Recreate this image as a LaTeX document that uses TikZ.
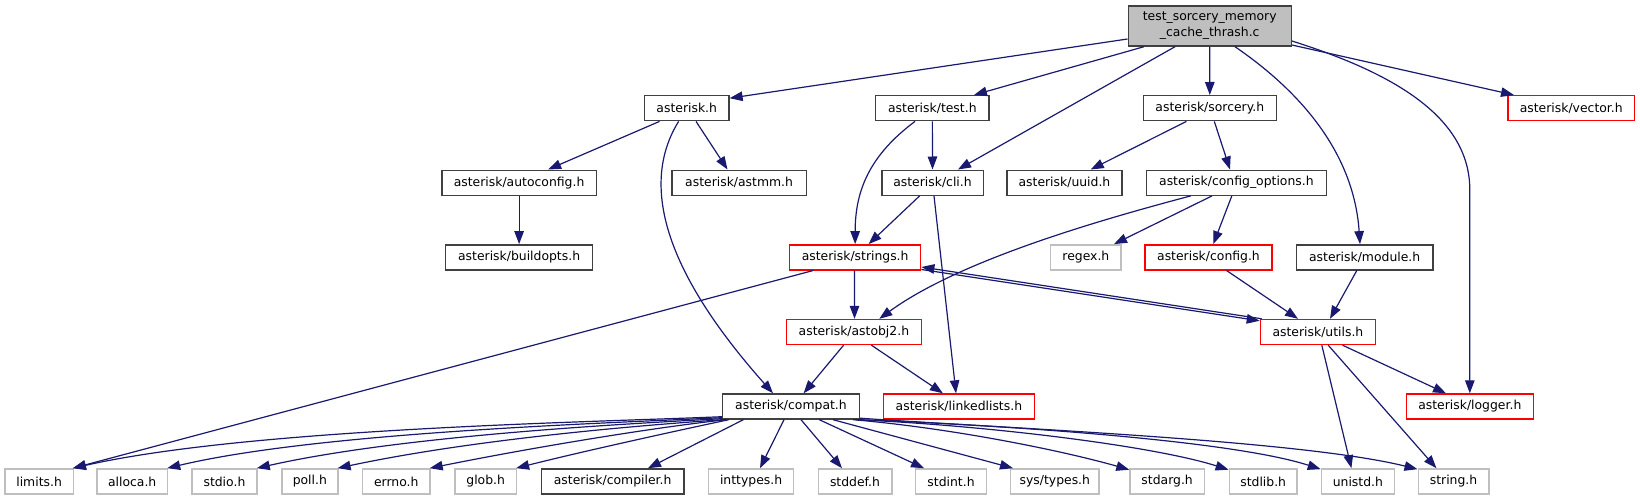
\documentclass[tikz,border=0pt]{standalone}
\usepackage{fontspec}
\setmainfont{DejaVu Sans}
\usetikzlibrary{arrows.meta}
\definecolor{edgec}{HTML}{191970}
\definecolor{grayb}{HTML}{BFBFBF}
\definecolor{darkb}{HTML}{404040}
\begin{document}
\begin{tikzpicture}[x=1pt,y=-1pt,
  box/.style={draw, line width=1.4pt, fill=white, inner sep=0pt, minimum height=25pt, font=\fontsize{12.4}{15}\selectfont},
  blk/.style={box, draw=darkb},
  redb/.style={box, draw=red},
  gryb/.style={box, draw=grayb},
  edge/.style={draw=edgec, line width=1.2pt, -{Triangle[length=13pt,width=9.5pt]}, fill=none}]
\useasboundingbox (0,0) rectangle (1640,500);
% main
\node[box, draw=darkb, fill=grayb, minimum width=163pt, minimum height=40pt, align=center, font=\fontsize{12.4}{16}\selectfont] (main) at (1209.7,26) {test\_sorcery\_memory\\\_cache\_thrash.c};
% row 1
\node[blk, minimum width=84.3pt] (ast) at (686.75,108.2) {asterisk.h};
\node[blk, minimum width=113.3pt] (test) at (932.35,108.2) {asterisk/test.h};
\node[blk, minimum width=133.2pt] (sorcery) at (1209.8,108.2) {asterisk/sorcery.h};
\node[redb, minimum width=126.7pt] (vector) at (1571.25,108.2) {asterisk/vector.h};
% row 2
\node[blk, minimum width=154.6pt] (autoconf) at (519.1,182.7) {asterisk/autoconfig.h};
\node[blk, minimum width=134.6pt] (astmm) at (739.1,182.7) {asterisk/astmm.h};
\node[blk, minimum width=101.4pt] (cli) at (932.5,182.7) {asterisk/cli.h};
\node[blk, minimum width=114.7pt] (uuid) at (1064.45,182.7) {asterisk/uuid.h};
\node[blk, minimum width=180pt] (copt) at (1236.4,182.7) {asterisk/config\_options.h};
% row 3
\node[blk, minimum width=146.8pt] (buildopts) at (519.1,257.3) {asterisk/buildopts.h};
\node[redb, minimum width=131.1pt] (strings) at (855.15,257.3) {asterisk/strings.h};
\node[gryb, minimum width=70.3pt] (regex) at (1085.85,257.3) {regex.h};
\node[redb, minimum width=127pt] (config) at (1208.5,257.3) {asterisk/config.h};
\node[blk, minimum width=136.5pt] (module) at (1364.65,257.3) {asterisk/module.h};
% row 4
\node[redb, minimum width=135pt] (astobj2) at (853.9,332) {asterisk/astobj2.h};
\node[redb, minimum width=115pt] (utils) at (1317.9,332) {asterisk/utils.h};
% row 5
\node[blk, minimum width=137pt] (compat) at (791,406.5) {asterisk/compat.h};
\node[redb, minimum width=151.4pt] (llists) at (958.9,406.5) {asterisk/linkedlists.h};
\node[redb, minimum width=126.8pt] (logger) at (1469.8,406.5) {asterisk/logger.h};
% row 6
\node[gryb, minimum width=68.2pt] (limits) at (39.1,481.4) {limits.h};
\node[gryb, minimum width=70.7pt] (alloca) at (132.15,481.4) {alloca.h};
\node[gryb, minimum width=65.3pt] (stdio) at (224.45,481.4) {stdio.h};
\node[gryb, minimum width=56.1pt] (poll) at (309.85,481.4) {poll.h};
\node[gryb, minimum width=67.5pt] (errno) at (396.25,481.4) {errno.h};
\node[gryb, minimum width=61.4pt] (glob) at (485.7,481.4) {glob.h};
\node[blk, minimum width=142.5pt] (compiler) at (612.65,481.4) {asterisk/compiler.h};
\node[gryb, minimum width=85pt] (inttypes) at (751.1,481.4) {inttypes.h};
\node[gryb, minimum width=73.6pt] (stddef) at (855,481.4) {stddef.h};
\node[gryb, minimum width=70.7pt] (stdint) at (951.05,481.4) {stdint.h};
\node[gryb, minimum width=88.2pt] (systypes) at (1054.8,481.4) {sys/types.h};
\node[gryb, minimum width=74.3pt] (stdarg) at (1167.15,481.4) {stdarg.h};
\node[gryb, minimum width=67.8pt] (stdlib) at (1263.2,481.4) {stdlib.h};
\node[gryb, minimum width=72.9pt] (unistd) at (1357.85,481.4) {unistd.h};
\node[gryb, minimum width=70.7pt] (string) at (1453.55,481.4) {string.h};
% edges from main
\draw[edge] ([yshift=-13pt]main.west) -- ([yshift=10pt]ast.east);
\draw[edge] ([xshift=-65.7pt]main.south) -- ([xshift=41.6pt]test.north);
\draw[edge] ([xshift=-34.7pt]main.south) -- ([xshift=25.5pt]cli.north);
\draw[edge] (main.south) -- (sorcery.north);
\draw[edge] ([xshift=25.3pt]main.south) .. controls (1320,105) and (1355,170) .. ([xshift=-4.65pt]module.north);
\draw[edge] ([yshift=-15pt]main.east) .. controls (1400,75) and (1469.8,120) .. (1469.8,190) -- (logger.north);
\draw[edge] ([yshift=-19pt]main.east) -- ([xshift=-57.25pt]vector.north);
% asterisk.h
\draw[edge] ([xshift=-27.2pt]ast.south) -- ([xshift=29pt]autoconf.north);
\draw[edge] ([xshift=9.25pt]ast.south) -- ([xshift=-11.6pt]astmm.north);
\draw[edge] ([xshift=-8.15pt]ast.south) .. controls (630,200) and (690,300) .. ([xshift=-18pt]compat.north);
\draw[edge] (autoconf.south) -- (buildopts.north);
% test.h
\draw[edge] (test.south) -- (cli.north);
\draw[edge] ([xshift=-17.35pt]test.south) .. controls (870,155) and (855.15,190) .. (strings.north);
% cli.h
\draw[edge] ([xshift=-12.9pt]cli.south) -- ([xshift=13.45pt]strings.north);
\draw[edge] ([xshift=1.5pt]cli.south) -- ([xshift=-2.9pt]llists.north);
% sorcery.h
\draw[edge] ([xshift=-23.4pt]sorcery.south) -- ([xshift=26.25pt]uuid.north);
\draw[edge] ([xshift=4.5pt]sorcery.south) -- ([xshift=-6.4pt]copt.north);
% config_options.h
\draw[edge] ([xshift=-45.7pt]copt.south) .. controls (1100,220) and (960,260) .. ([xshift=25.4pt]astobj2.north);
\draw[edge] ([xshift=-24.4pt]copt.south) -- ([xshift=28.15pt]regex.north);
\draw[edge] ([xshift=-4.6pt]copt.south) -- ([xshift=4.8pt]config.north);
% config, module
\draw[edge] ([xshift=18pt]config.south) -- ([xshift=-19.9pt]utils.north);
\draw[edge] ([xshift=-7.85pt]module.south) -- ([xshift=12.1pt]utils.north);
% strings.h
\draw[edge] ([xshift=-0.6pt]strings.south) -- ([xshift=0.6pt]astobj2.north);
\draw[edge] ([xshift=-41.95pt]strings.south) -- ([xshift=-1pt]limits.north east);
\draw[edge] ([yshift=1pt]strings.south east) -- ([yshift=-2pt]utils.north west);
\draw[edge] ([xshift=2pt]utils.north west) -- ([yshift=3.5pt]strings.south east);
% utils.h
\draw[edge] ([xshift=24.6pt]utils.south) -- ([xshift=-23.8pt]logger.north);
\draw[edge] ([xshift=3.9pt]utils.south) -- ([xshift=-6.45pt]unistd.north);
\draw[edge] ([xshift=10.3pt]utils.south) -- ([xshift=-17.15pt]string.north);
% astobj2.h
\draw[edge] ([xshift=-10.3pt]astobj2.south) -- ([xshift=12.6pt]compat.north);
\draw[edge] ([xshift=17.5pt]astobj2.south) -- ([xshift=-16pt]llists.north);
% compat.h
\draw[edge] ([yshift=3pt]compat.south west) .. controls (600,422) and (250,428) .. ([xshift=-1pt]limits.north east);
\draw[edge] ([yshift=2pt]compat.south west) .. controls (610,423) and (320,432) .. ([xshift=-1pt]alloca.north east);
\draw[edge] ([yshift=1pt]compat.south west) .. controls (620,424) and (400,436) .. ([xshift=-1pt]stdio.north east);
\draw[edge] ([xshift=1pt]compat.south west) .. controls (630,426) and (470,440) .. ([xshift=-1pt]poll.north east);
\draw[edge] ([xshift=4pt]compat.south west) .. controls (650,428) and (530,448) .. ([xshift=-1pt]errno.north east);
\draw[edge] ([xshift=7pt]compat.south west) .. controls (680,430) and (580,452) .. ([xshift=-1pt]glob.north east);
\draw[edge] ([xshift=-47.7pt]compat.south) -- ([xshift=35.35pt]compiler.north);
\draw[edge] ([xshift=-7pt]compat.south) -- ([xshift=8.9pt]inttypes.north);
\draw[edge] ([xshift=10pt]compat.south) -- ([xshift=-13pt]stddef.north);
\draw[edge] ([xshift=28.3pt]compat.south) -- ([xshift=-27pt]stdint.north);
\draw[edge] ([xshift=42pt]compat.south) -- ([xshift=-41.8pt]systypes.north);
\draw[edge] ([xshift=-7pt]compat.south east) .. controls (950,428) and (1060,450) .. ([yshift=-1.5pt]stdarg.north west);
\draw[edge] ([xshift=-4pt]compat.south east) .. controls (980,425) and (1150,445) .. ([yshift=-1.5pt]stdlib.north west);
\draw[edge] ([xshift=-1pt]compat.south east) .. controls (1000,425) and (1230,440) .. ([yshift=-1pt]unistd.north west);
\draw[edge] ([yshift=1.5pt]compat.south east) .. controls (1000,428) and (1300,440) .. ([yshift=-1pt]string.north west);
\end{tikzpicture}
\end{document}
